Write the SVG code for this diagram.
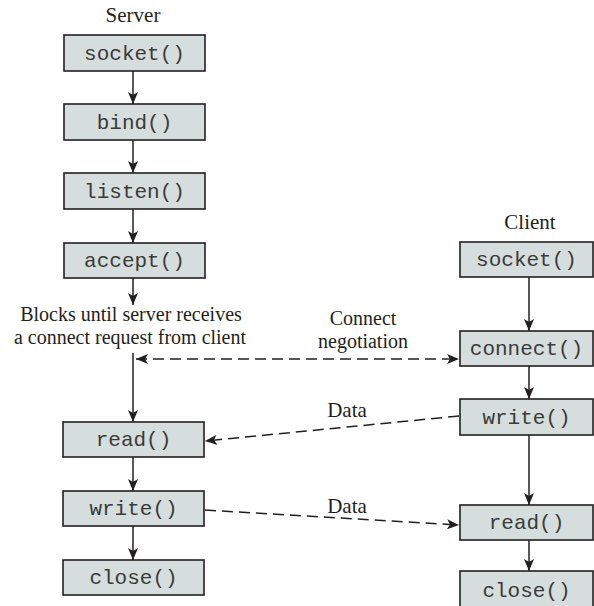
<svg xmlns="http://www.w3.org/2000/svg" width="594" height="606" viewBox="0 0 594 606">
<style>
.box{fill:#d5dedc;stroke:#231f20;stroke-width:1.6}
.mono{font-family:"Liberation Mono","Courier New",monospace;font-size:21px;fill:#3a3a3a;text-anchor:middle}
.serif{font-family:"Liberation Serif","Times New Roman",serif;font-size:21px;fill:#231f20;text-anchor:middle}
.serif2{font-family:"Liberation Serif","Times New Roman",serif;font-size:20px;fill:#231f20;text-anchor:middle}
.line{stroke:#231f20;stroke-width:1.5;fill:none}
.dash{stroke:#231f20;stroke-width:1.5;fill:none;stroke-dasharray:11 6}
</style>
<defs>
<marker id="arr" viewBox="0 0 12 10" refX="12" refY="5" markerWidth="12" markerHeight="10" markerUnits="userSpaceOnUse" orient="auto">
<path d="M0,0 L12,5 L0,10 L3,5 Z" fill="#231f20"/>
</marker>
<marker id="arrs" viewBox="0 0 12 10" refX="12" refY="5" markerWidth="12" markerHeight="10" markerUnits="userSpaceOnUse" orient="auto-start-reverse">
<path d="M0,0 L12,5 L0,10 L3,5 Z" fill="#231f20"/>
</marker>
</defs>
<g id="labels">
<text class="serif" x="133" y="22">Server</text>
<text class="serif" x="530" y="229">Client</text>
<text class="serif2" x="131" y="321">Blocks until server receives</text>
<text class="serif2" x="130" y="344">a connect request from client</text>
<text class="serif2" x="363" y="325">Connect</text>
<text class="serif2" x="363" y="348">negotiation</text>
<text class="serif" x="347" y="417">Data</text>
<text class="serif" x="347" y="513">Data</text>
</g>
<g id="connectors">
<line class="line" x1="133" y1="71" x2="133" y2="104" marker-end="url(#arr)"/>
<line class="line" x1="133" y1="140" x2="133" y2="173" marker-end="url(#arr)"/>
<line class="line" x1="133" y1="209" x2="133" y2="243" marker-end="url(#arr)"/>
<line class="line" x1="133" y1="278" x2="133" y2="305" marker-end="url(#arr)"/>
<line class="line" x1="133" y1="353" x2="133" y2="422" marker-end="url(#arr)"/>
<line class="line" x1="133" y1="457" x2="133" y2="491" marker-end="url(#arr)"/>
<line class="line" x1="133" y1="526" x2="133" y2="560" marker-end="url(#arr)"/>
<line class="line" x1="529" y1="277" x2="529" y2="331" marker-end="url(#arr)"/>
<line class="line" x1="529" y1="366" x2="529" y2="399" marker-end="url(#arr)"/>
<line class="line" x1="529" y1="435" x2="529" y2="505" marker-end="url(#arr)"/>
<line class="line" x1="529" y1="540" x2="529" y2="571" marker-end="url(#arr)"/>
<line class="dash" x1="136" y1="359" x2="459" y2="359" marker-start="url(#arrs)" marker-end="url(#arr)"/>
<line class="dash" x1="459" y1="416" x2="205" y2="441" marker-end="url(#arr)"/>
<line class="dash" x1="205" y1="510" x2="459" y2="525" marker-end="url(#arr)"/>
</g>
<g id="s_socket"><rect class="box" x="64" y="35" width="141" height="36"/><text class="mono" x="134.5" y="60">socket()</text></g>
<g id="s_bind"><rect class="box" x="64" y="104" width="141" height="36"/><text class="mono" x="134.5" y="129">bind()</text></g>
<g id="s_listen"><rect class="box" x="64" y="173" width="141" height="36"/><text class="mono" x="134.5" y="198">listen()</text></g>
<g id="s_accept"><rect class="box" x="64" y="243" width="141" height="35"/><text class="mono" x="134.5" y="267">accept()</text></g>
<g id="s_read"><rect class="box" x="63" y="422" width="141" height="35"/><text class="mono" x="133.5" y="446">read()</text></g>
<g id="s_write"><rect class="box" x="63" y="491" width="141" height="35"/><text class="mono" x="133.5" y="515">write()</text></g>
<g id="s_close"><rect class="box" x="63" y="560" width="141" height="35"/><text class="mono" x="133.5" y="584">close()</text></g>
<g id="c_socket"><rect class="box" x="460" y="242" width="133" height="35"/><text class="mono" x="526.5" y="266">socket()</text></g>
<g id="c_connect"><rect class="box" x="460" y="331" width="133" height="35"/><text class="mono" x="526.5" y="355">connect()</text></g>
<g id="c_write"><rect class="box" x="460" y="399" width="133" height="36"/><text class="mono" x="526.5" y="424">write()</text></g>
<g id="c_read"><rect class="box" x="460" y="505" width="133" height="35"/><text class="mono" x="526.5" y="529">read()</text></g>
<g id="c_close"><rect class="box" x="460" y="571" width="133" height="40"/><text class="mono" x="526.5" y="597">close()</text></g>
</svg>
